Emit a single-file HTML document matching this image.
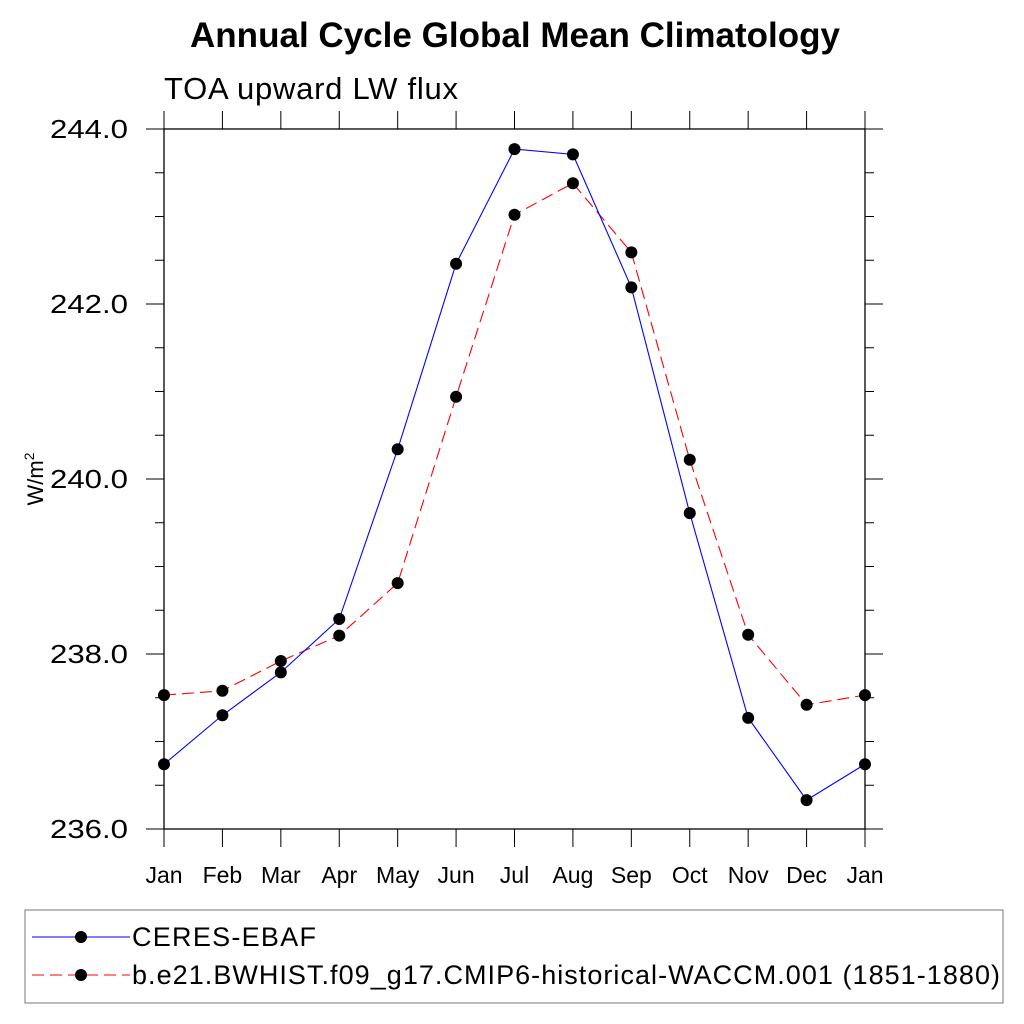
<!DOCTYPE html>
<html><head><meta charset="utf-8"><style>body{margin:0;background:#fff}svg{display:block}</style></head>
<body>
<svg id="c" width="1024" height="1024" xmlns="http://www.w3.org/2000/svg" font-family="Liberation Sans, sans-serif">
<text x="515" y="47" text-anchor="middle" font-size="35" font-weight="bold" textLength="650">Annual Cycle Global Mean Climatology</text>
<text x="164" y="99" font-size="31" textLength="294">TOA upward LW flux</text>
<text transform="translate(43,479) rotate(-90)" text-anchor="middle" font-size="22">W/m<tspan dy="-9" font-size="14">2</tspan></text>
<g id="axes"></g>
<g id="series"></g>
<rect x="25" y="910" width="978" height="93" fill="none" stroke="#777" stroke-width="1"/>
<line x1="32" y1="937" x2="130" y2="937" stroke="#00f" stroke-width="1"/>
<circle cx="81" cy="937" r="6" fill="#000"/>
<text x="132" y="946" font-size="27" textLength="184">CERES-EBAF</text>
<line x1="32" y1="975" x2="130" y2="975" stroke="#f00" stroke-width="1" stroke-dasharray="12,6"/>
<circle cx="81" cy="975" r="6" fill="#000"/>
<text x="132" y="984" font-size="27" textLength="868">b.e21.BWHIST.f09_g17.CMIP6-historical-WACCM.001 (1851-1880)</text>
</svg>
<script>
const months=["Jan","Feb","Mar","Apr","May","Jun","Jul","Aug","Sep","Oct","Nov","Dec","Jan"];
const ceres=[236.74,237.30,237.79,238.40,240.34,242.46,243.77,243.71,242.19,239.61,237.27,236.33,236.74];
const model=[237.53,237.58,237.92,238.21,238.81,240.94,243.02,243.38,242.59,240.22,238.22,237.42,237.53];
const yTicks=[236,238,240,242,244];
const yMin=236,yMax=244;
const L=164,R=865,T=129,B=829;
const NS="http://www.w3.org/2000/svg";
const xs=i=>L+(R-L)*i/(months.length-1);
const ys=v=>B-(v-yMin)/(yMax-yMin)*(B-T);
function mk(p,t,a){const e=document.createElementNS(NS,t);for(const k in a)e.setAttribute(k,a[k]);p.appendChild(e);return e;}
const ax=document.getElementById('axes');
const frame=mk(ax,'rect',{x:L,y:T,width:R-L,height:B-T,fill:'none',stroke:'#000','stroke-width':1.3});


months.forEach((m,i)=>{
  const x=xs(i);
  mk(ax,'line',{x1:x,y1:T,x2:x,y2:T-18,stroke:'#000'});
  mk(ax,'line',{x1:x,y1:B,x2:x,y2:B+18,stroke:'#000'});
  const t=mk(ax,'text',{x:x,y:883,'text-anchor':'middle','font-size':23});
  t.textContent=m;
  
  
});
for(let v=yMin;v<=yMax+1e-9;v+=0.5){
  const y=ys(v);const major=Math.abs(v-Math.round(v/2)*2)<1e-9;const len=major?18:9;
  mk(ax,'line',{x1:L,y1:y,x2:L-len,y2:y,stroke:'#000'});
  mk(ax,'line',{x1:R,y1:y,x2:R+len,y2:y,stroke:'#000'});
}
yTicks.forEach(v=>{
  const t=mk(ax,'text',{x:50,y:ys(v)+9,'font-size':26,textLength:78,lengthAdjust:'spacingAndGlyphs'});
  t.textContent=v.toFixed(1);
  
  
});
const sg=document.getElementById('series');
function draw(data,color,dash,name){
  const pl=mk(sg,'polyline',{points:data.map((v,i)=>xs(i)+','+ys(v)).join(' '),fill:'none',stroke:color,'stroke-width':1.1});
  if(dash)pl.setAttribute('stroke-dasharray',dash);
  
  
  data.forEach((v,i)=>{
    const c=mk(sg,'circle',{cx:xs(i),cy:ys(v),r:6,fill:'#000'});
    
    
  });
}
draw(model,'#f00','12,6','model');
draw(ceres,'#00f',null,'ceres');
</script>
</body></html>
